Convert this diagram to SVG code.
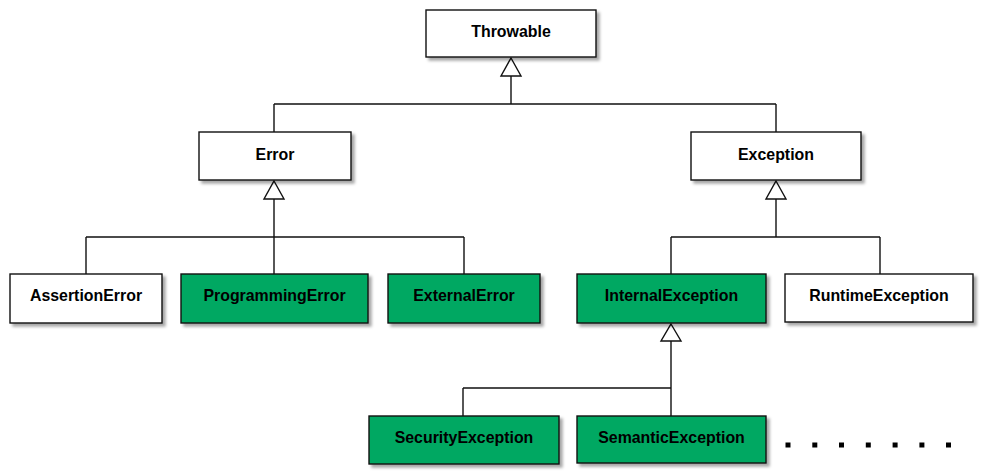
<svg xmlns="http://www.w3.org/2000/svg" width="982" height="473" viewBox="0 0 982 473">
<defs>
<filter id="sh" x="-10%" y="-20%" width="130%" height="160%">
<feDropShadow dx="3" dy="3" stdDeviation="1.5" flood-color="#000" flood-opacity="0.35"/>
</filter>
</defs>
<style>
.box{stroke:#111;stroke-width:1.4;filter:url(#sh)}
.w{fill:#fff}
.g{fill:#00a862}
text{font-family:"Liberation Sans",Arial,Helvetica,sans-serif;font-weight:bold;font-size:15.9px;fill:#000;text-anchor:middle}
.ln{fill:none;stroke:#111;stroke-width:1.4}
.ar{fill:#fff;stroke:#111;stroke-width:1.4;stroke-linejoin:miter}
.dot{fill:#000}
</style>
<rect width="982" height="473" fill="#fff"/>
<g id="connectors">
<path class="ln" d="M511 76V104M274 104H776M274 104V132M776 104V132"/>
<path class="ln" d="M274 199V274M86 237H464M86 237V274M464 237V274"/>
<path class="ln" d="M776 199V237M671 237H880M671 237V274M880 237V275"/>
<path class="ln" d="M671 341V416M463 388H671M463 388V416"/>
<polygon class="ar" points="511,58 521,76 501,76"/>
<polygon class="ar" points="274,181 284,199 264,199"/>
<polygon class="ar" points="776,181 786,199 766,199"/>
<polygon class="ar" points="671,324 681,341 661,341"/>
</g>
<g id="Throwable"><rect class="box w" x="426" y="10" width="170" height="47"/><text x="511" y="37">Throwable</text></g>
<g id="Error"><rect class="box w" x="199" y="132" width="152" height="48"/><text x="275" y="160">Error</text></g>
<g id="Exception"><rect class="box w" x="691" y="132" width="170" height="48"/><text x="776" y="160">Exception</text></g>
<g id="AssertionError"><rect class="box w" x="10" y="274" width="152" height="49"/><text x="86" y="301">AssertionError</text></g>
<g id="ProgrammingError"><rect class="box g" x="181" y="274" width="187" height="49"/><text x="274.5" y="301">ProgrammingError</text></g>
<g id="ExternalError"><rect class="box g" x="388" y="274" width="152" height="49"/><text x="464" y="301">ExternalError</text></g>
<g id="InternalException"><rect class="box g" x="577" y="274" width="189" height="49"/><text x="671.5" y="301">InternalException</text></g>
<g id="RuntimeException"><rect class="box w" x="785" y="274" width="188" height="48"/><text x="879" y="301">RuntimeException</text></g>
<g id="SecurityException"><rect class="box g" x="369" y="416" width="190" height="48"/><text x="464" y="443">SecurityException</text></g>
<g id="SemanticException"><rect class="box g" x="577" y="416" width="189" height="47"/><text x="671.5" y="443">SemanticException</text></g>
<g id="ellipsis">
<rect class="dot" x="785.5" y="442.5" width="5" height="5"/>
<rect class="dot" x="812.3" y="442.5" width="5" height="5"/>
<rect class="dot" x="839" y="442.5" width="5" height="5"/>
<rect class="dot" x="865.8" y="442.5" width="5" height="5"/>
<rect class="dot" x="892.6" y="442.5" width="5" height="5"/>
<rect class="dot" x="919.4" y="442.5" width="5" height="5"/>
<rect class="dot" x="946" y="442.5" width="5" height="5"/>
</g>
</svg>
